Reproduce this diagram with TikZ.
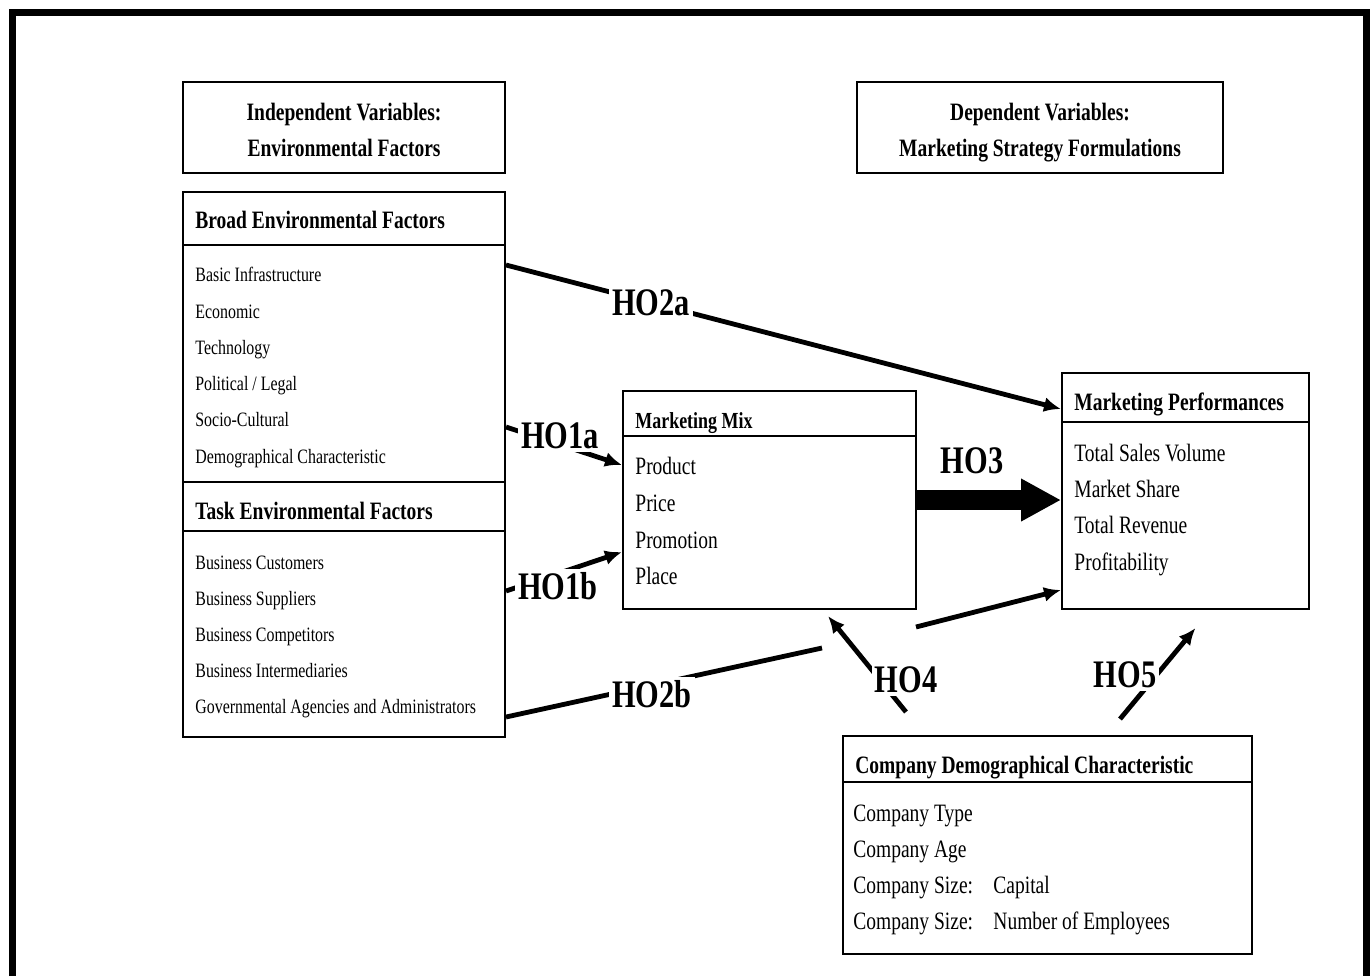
\documentclass[tikz,border=0pt]{standalone}
\usepackage{fontspec}
\setmainfont{Liberation Serif}[FakeStretch=0.78]
\usetikzlibrary{arrows.meta,fit}
\begin{document}
\begin{tikzpicture}[x=0.5pt,y=-0.5pt,
  box/.style={draw, line width=1pt, inner sep=0pt},
  div/.style={line width=1pt},
  hd/.style={anchor=base west, inner sep=0pt, font=\bfseries\fontsize{12.5}{15}\selectfont},
  mhd/.style={anchor=base west, inner sep=0pt, font=\bfseries\fontsize{11.5}{14}\selectfont},
  itm/.style={anchor=base west, inner sep=0pt, font=\fontsize{12.5}{15}\selectfont},
  sitm/.style={anchor=base west, inner sep=0pt, font=\fontsize{10.2}{12}\selectfont},
  ttl/.style={align=center, inner sep=0pt, font=\bfseries\fontsize{12.5}{18}\selectfont},
  ho/.style={fill=white, inner sep=1.5pt, font=\bfseries\fontsize{19.5}{22}\selectfont},
  conn/.style={line width=2.4pt},
  arr/.style={conn, -{Latex[length=8.5pt,width=7.5pt]}},
]
\useasboundingbox (0,0) rectangle (1370,976);
\fill[white] (0,0) rectangle (1370,976);
\draw[line width=3.5pt] (12.5,976) -- (12.5,12.5) -- (1366.5,12.5) -- (1366.5,976);

% title boxes
\node[box, fit={(183,82)(505,173)}] (indep) {};
\node[ttl] (indept) at (344,130) {Independent Variables:\\Environmental Factors};
\node[box, fit={(857,82)(1223,173)}] (dep) {};
\node[ttl] (dept) at (1040,133) {Dependent Variables:\\Marketing Strategy Formulations};

% environmental factors box
\node[box, fit={(183,192)(505,737)}] (env) {};
\draw[div] ([yshift=-27pt]env.north west) -- ([yshift=-27pt]env.north east);
\draw[div] ([yshift=-145.5pt]env.north west) -- ([yshift=-145.5pt]env.north east);
\draw[div] ([yshift=-170pt]env.north west) -- ([yshift=-170pt]env.north east);
\node[hd] (bh) at (195,228) {Broad Environmental Factors};
\node[sitm] (b1) at (195,281) {Basic Infrastructure};
\node[sitm] (b2) at (195,318) {Economic};
\node[sitm] (b3) at (195,354) {Technology};
\node[sitm] (b4) at (195,390) {Political / Legal};
\node[sitm] (b5) at (195,426) {Socio-Cultural};
\node[sitm] (b6) at (195,463) {Demographical Characteristic};
\node[hd] (th) at (195,519) {Task Environmental Factors};
\node[sitm] (t1) at (195,569) {Business Customers};
\node[sitm] (t2) at (195,605) {Business Suppliers};
\node[sitm] (t3) at (195,641) {Business Competitors};
\node[sitm] (t4) at (195,677) {Business Intermediaries};
\node[sitm] (t5) at (195,713) {Governmental Agencies and Administrators};

% marketing mix
\node[box, fit={(623,391)(916,609)}] (mix) {};
\draw[div] ([yshift=-23pt]mix.north west) -- ([yshift=-23pt]mix.north east);
\node[mhd] (mh) at (635,428) {Marketing Mix};
\node[itm] (m1) at (635,474) {Product};
\node[itm] (m2) at (635,511) {Price};
\node[itm] (m3) at (635,548) {Promotion};
\node[itm] (m4) at (635,584) {Place};

% marketing performances
\node[box, fit={(1062,373)(1309,609)}] (perf) {};
\draw[div] ([yshift=-25pt]perf.north west) -- ([yshift=-25pt]perf.north east);
\node[hd] (ph) at (1074,410) {Marketing Performances};
\node[itm] (p1) at (1074,461) {Total Sales Volume};
\node[itm] (p2) at (1074,497) {Market Share};
\node[itm] (p3) at (1074,533) {Total Revenue};
\node[itm] (p4) at (1074,570) {Profitability};

% company demographics
\node[box, fit={(843,736)(1252,954)}] (comp) {};
\draw[div] ([yshift=-23.5pt]comp.north west) -- ([yshift=-23.5pt]comp.north east);
\node[hd] (ch) at (855,773) {Company Demographical Characteristic};
\node[itm] (c1) at (853,821) {Company Type};
\node[itm] (c2) at (853,857) {Company Age};
\node[itm] (c3) at (853,893) {\makebox[70pt][l]{Company Size:}Capital};
\node[itm] (c4) at (853,929) {\makebox[70pt][l]{Company Size:}Number of Employees};

% connectors
\draw[arr] ([yshift=-37pt]env.north east) -- ([yshift=-18.5pt]perf.north west);
\draw[arr] ([yshift=-118pt]env.north east) -- ([yshift=-37.5pt]mix.north west);
\draw[arr] ([yshift=-200pt]env.north east) -- ([yshift=-81pt]mix.north west);
\draw[line width=10pt, -{Triangle[length=20pt,width=20pt]}] (mix.east) -- (mix.east -| perf.west);
\coordinate (g1) at (822,648);
\coordinate (g2) at (916,627);
\draw[conn] ([yshift=-263pt]env.north east) -- (g1);
\draw[arr] (g2) -- ([yshift=-109pt]perf.north west);
\draw[arr] ([xshift=-70.75pt,yshift=11.5pt]comp.north) -- ([xshift=29.25pt,yshift=-3pt]mix.south);
\draw[arr] ([xshift=36.25pt,yshift=8pt]comp.north) -- ([xshift=5pt,yshift=-9pt]perf.south);

% labels
\node[ho] (l2a) at (651,303) {HO2a};
\node[ho] (l1a) at (560,436) {HO1a};
\node[ho] (l1b) at (558,586) {HO1b};
\node[ho] (l3) at (972,461) {HO3};
\node[ho] (l2b) at (652,694) {HO2b};
\node[ho] (l4) at (906,680) {HO4};
\node[ho] (l5) at (1125,675) {HO5};
\end{tikzpicture}
\end{document}
